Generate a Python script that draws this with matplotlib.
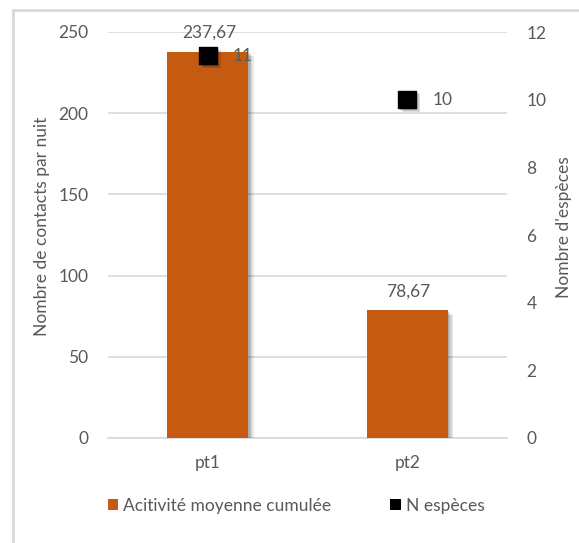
import matplotlib
matplotlib.use("Agg")
import matplotlib.pyplot as plt
import matplotlib.patheffects as pe
from matplotlib.patches import Patch
from matplotlib.lines import Line2D

# data
points = ["pt1", "pt2"]
activite = [237.67, 78.67]
activite_labels = ["237,67", "78,67"]
n_especes = [11.3, 10]
especes_labels = ["11", "10"]

orange = "#C55A11"
grey_txt = "#595959"
grid_col = "#D9D9D9"
fs = 12.5

plt.rcParams["font.family"] = ["Lato", "DejaVu Sans"]

# soft shadow made of a few stacked faint offsets
def soft_shadow(n=4, a=0.09):
    effs = [pe.SimplePatchShadow(offset=(k, -k * 0.8), shadow_rgbFace="black", alpha=a)
            for k in range(1, n + 1)]
    return effs + [pe.Normal()]

fig = plt.figure(figsize=(5.79, 5.43), dpi=100)
ax = fig.add_axes([108 / 579, 1 - 438 / 543, (507 - 108) / 579, (438 - 32) / 543])
ax2 = ax.twinx()

x = list(range(len(points)))
bars = ax.bar(x, activite, width=0.405, color=orange, zorder=3)
for b in bars:
    b.set_path_effects(soft_shadow())

for xi, v, lab in zip(x, activite, activite_labels):
    ax.annotate(lab, (xi, v), xytext=(1, 8), textcoords="offset points",
                ha="center", va="bottom", fontsize=fs, color=grey_txt)

ax.set_xlim(-0.5, 1.5)
ax.set_ylim(0, 250)
ax.set_yticks([0, 50, 100, 150, 200, 250])
ax.set_xticks(x)
ax.set_xticklabels(points)
ax.yaxis.grid(True, color=grid_col, lw=1.2, zorder=0)
ax.set_axisbelow(True)
for s in ["top", "right", "left"]:
    ax.spines[s].set_visible(False)
ax.spines["bottom"].set_color(grid_col)
ax.spines["bottom"].set_linewidth(1.2)
ax.tick_params(axis="y", length=0, pad=14, labelsize=fs, labelcolor=grey_txt)
ax.tick_params(axis="x", length=0, pad=12, labelsize=fs, labelcolor=grey_txt)

ax2.scatter(x, n_especes, marker="s", s=160, color="black", zorder=5,
            path_effects=soft_shadow(3, 0.12))
for xi, v, lab in zip(x, n_especes, especes_labels):
    ax2.annotate(lab, (xi, v), xytext=(18, 0), textcoords="offset points",
                 ha="left", va="center", fontsize=fs, color=grey_txt)
ax2.set_ylim(0, 12)
ax2.set_yticks([0, 2, 4, 6, 8, 10, 12])
for s in ["top", "right", "left", "bottom"]:
    ax2.spines[s].set_visible(False)
ax2.tick_params(axis="y", length=0, pad=14, labelsize=fs, labelcolor=grey_txt)

fig.text(42 / 579, 1 - 226 / 543, "Nombre de contacts par nuit", rotation=90,
         ha="center", va="center", fontsize=fs, color=grey_txt)
fig.text(564 / 579, 1 - 227 / 543, "Nombre d'espèces", rotation=90,
         ha="center", va="center", fontsize=fs, color=grey_txt)

handles = [Patch(facecolor=orange, label="Acitivité moyenne cumulée"),
           Patch(facecolor="black", label="N espèces")]
fig.legend(handles=handles, loc="center left", bbox_to_anchor=(92 / 579, 1 - 506 / 543),
           ncol=2, frameon=False, fontsize=fs, labelcolor=grey_txt,
           handlelength=0.6, handleheight=0.6, handletextpad=0.3, columnspacing=3.4)

# chart border (top and left only visible)
fig.add_artist(Line2D([13 / 579, 1], [1 - 10 / 543, 1 - 10 / 543], color=grid_col, lw=2))
fig.add_artist(Line2D([13 / 579, 13 / 579], [0, 1 - 10 / 543], color=grid_col, lw=2))

fig.savefig("out.png", dpi=100)
